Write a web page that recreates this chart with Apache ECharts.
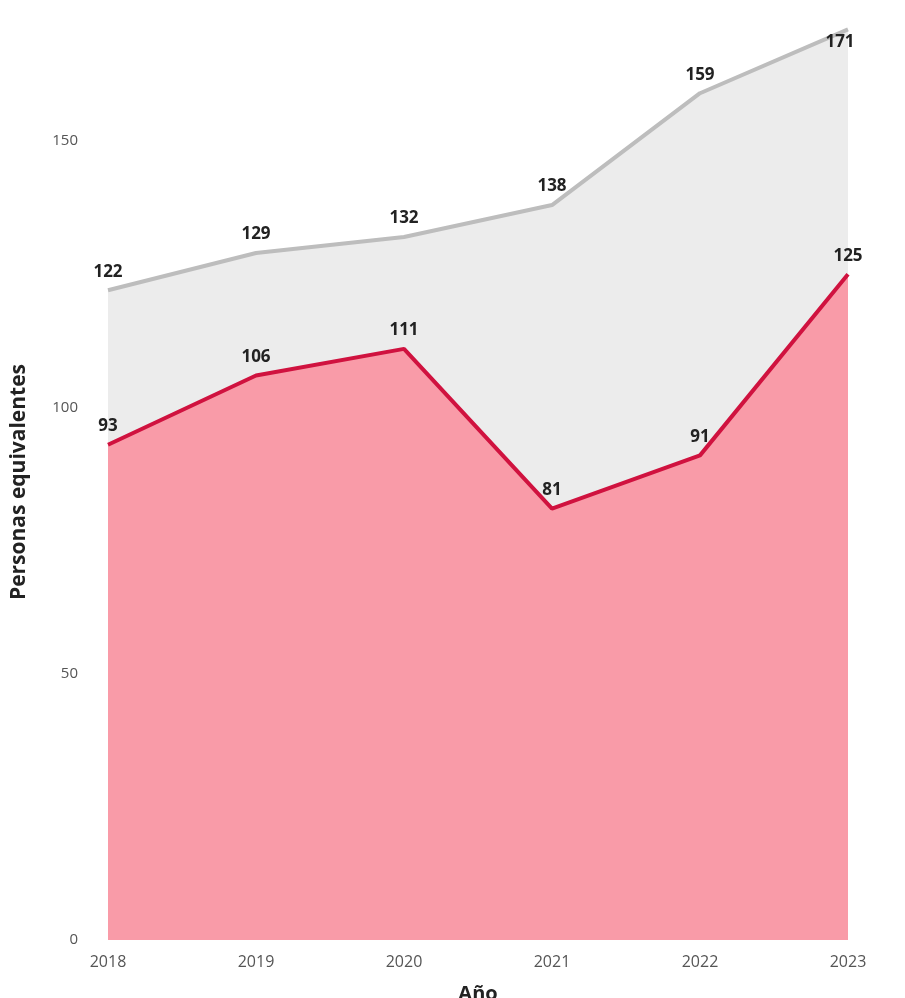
<!DOCTYPE html>
<html>
<head>
<meta charset="utf-8">
<script src="https://cdn.jsdelivr.net/npm/echarts@6/dist/echarts.min.js"></script>
<style>
  html, body { margin: 0; padding: 0; background: #fff; }
  #chart { width: 905px; height: 998px; }
</style>
</head>
<body>
<div id="chart"></div>
<script>
var myChart = echarts.init(document.getElementById('chart'));

// --- data ---
const years = ['2018', '2019', '2020', '2021', '2022', '2023'];
const ausencia = [122, 129, 132, 138, 159, 171];
const sustituciones = [93, 106, 111, 81, 91, 125];

const FONT = '"Open Sans", "Noto Sans", sans-serif';

// top point label sits below-left so it does not run off the chart
function withLabels(values, lastBelow) {
    return values.map(function (v, i) {
        if (lastBelow && i === values.length - 1) {
            return { value: v, label: { position: 'bottom', offset: [-8, -6] } };
        }
        return v;
    });
}

const pointLabel = {
    show: true, position: 'top', distance: 10,
    fontFamily: FONT, fontSize: 17, fontWeight: 'bold', color: '#222'
};

const option = {
    animation: false,
    grid: { left: 108, right: 57, top: 8, bottom: 58, containLabel: false, outerBoundsMode: 'none' },
    xAxis: {
        type: 'category', data: years, boundaryGap: false,
        axisLine: { show: false }, axisTick: { show: false },
        axisLabel: { color: '#555', fontSize: 16, fontFamily: FONT, margin: 14 },
        name: 'Año', nameLocation: 'middle', nameGap: 44,
        nameTextStyle: { fontSize: 20, fontWeight: 'bold', color: '#222', fontFamily: FONT }
    },
    yAxis: {
        type: 'value', min: 0, max: 175, interval: 50,
        axisLine: { show: false }, axisTick: { show: false }, splitLine: { show: false },
        axisLabel: {
            color: '#555', fontSize: 15, fontFamily: FONT, margin: 30,
            formatter: function (v) { return v % 50 === 0 ? v : ''; }
        },
        name: 'Personas equivalentes', nameLocation: 'middle', nameGap: 78,
        nameTextStyle: {
            fontSize: 21, fontWeight: 'bold', color: '#222', fontFamily: FONT,
            padding: [0, 16, 0, 0]
        }
    },
    series: [
        {
            name: 'Ausencia', type: 'line', data: withLabels(ausencia, true),
            symbol: 'circle', symbolSize: 0, showSymbol: true,
            lineStyle: { color: '#bdbdbd', width: 4 },
            itemStyle: { color: '#bdbdbd' },
            areaStyle: { color: '#ececec', opacity: 1 },
            label: pointLabel, z: 1
        },
        {
            name: 'Sustituciones', type: 'line', data: withLabels(sustituciones, false),
            symbol: 'circle', symbolSize: 0, showSymbol: true,
            lineStyle: { color: '#d0123f', width: 4 },
            itemStyle: { color: '#d0123f' },
            areaStyle: { color: '#f99ba8', opacity: 1 },
            label: pointLabel, z: 2
        }
    ],
    graphic: [
        { type: 'text', left: 748, top: 92, style: { text: 'Ausencia', fontSize: 17, fontWeight: 'bold', fill: '#666', fontFamily: FONT } },
        { type: 'text', left: 705, top: 475, style: { text: 'Sustituciones', fontSize: 17, fontWeight: 'bold', fill: '#6e5357', fontFamily: FONT } }
    ]
};

myChart.setOption(option);

window.addEventListener('resize', function () {
    myChart.resize();
});
</script>
</body>
</html>
